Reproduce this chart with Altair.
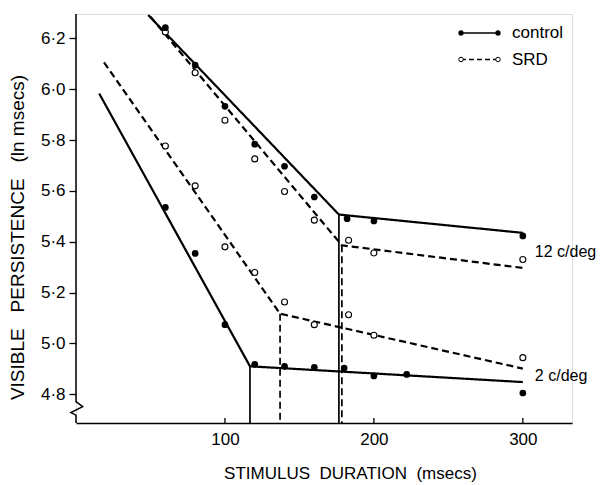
import altair as alt
import pandas as pd

# ---------------- data ----------------
control_12_x = [60, 80, 100, 120, 140, 160, 182, 200, 300]
control_12_y = [6.242, 6.095, 5.933, 5.784, 5.697, 5.576, 5.491, 5.482, 5.423]

srd_12_x = [60, 80, 100, 120, 140, 160, 183, 200, 300]
srd_12_y = [6.225, 6.065, 5.878, 5.726, 5.598, 5.485, 5.406, 5.356, 5.330]

srd_2_x = [60, 80, 100, 120, 140, 160, 183, 200, 300]
srd_2_y = [5.777, 5.620, 5.380, 5.279, 5.163, 5.074, 5.113, 5.032, 4.944]

control_2_x = [60, 80, 100, 120, 140, 160, 180, 200, 222, 300]
control_2_y = [5.535, 5.354, 5.074, 4.918, 4.910, 4.906, 4.903, 4.872, 4.878, 4.805]

# bilinear fits: start, break point, end
fit_control_12_x = [48.5, 176.5, 300]
fit_control_12_y = [6.292, 5.507, 5.435]
fit_srd_12_x = [50, 178.5, 300]
fit_srd_12_y = [6.285, 5.386, 5.297]
fit_srd_2_x = [18.8, 137, 300]
fit_srd_2_y = [6.106, 5.117, 4.901]
fit_control_2_x = [15.6, 116.8, 300]
fit_control_2_y = [5.983, 4.910, 4.848]

x_ticks = [100, 200, 300]
y_ticks = [4.8, 5.0, 5.2, 5.4, 5.6, 5.8, 6.0, 6.2]
x_domain = [0, 333]
y_domain = [4.687, 6.296]

# y axis line with its break symbol
axis_line_x = [0, 0, 4.5, -3.4, 0, 0]
axis_line_y = [6.296, 4.771, 4.751, 4.728, 4.718, 4.687]

freq_labels = ["12 c/deg", "2 c/deg"]
freq_label_x = [300, 300]
freq_label_y = [5.36, 4.87]

legend_labels = ["control", "SRD"]

# ---------------- tables ----------------
def pts(name, cond, xs, ys):
    return pd.DataFrame({"series": name, "cond": cond, "x": xs, "y": ys})

points = pd.concat([
    pts("c12", "control", control_12_x, control_12_y),
    pts("s12", "SRD", srd_12_x, srd_12_y),
    pts("s2", "SRD", srd_2_x, srd_2_y),
    pts("c2", "control", control_2_x, control_2_y),
])

fits = pd.concat([
    pts("c12", "control", fit_control_12_x, fit_control_12_y),
    pts("s12", "SRD", fit_srd_12_x, fit_srd_12_y),
    pts("s2", "SRD", fit_srd_2_x, fit_srd_2_y),
    pts("c2", "control", fit_control_2_x, fit_control_2_y),
])

drops = pd.DataFrame({
    "series": ["c12", "s12", "s2", "c2"],
    "cond": ["control", "SRD", "SRD", "control"],
    "x": [fit_control_12_x[1], fit_srd_12_x[1], fit_srd_2_x[1], fit_control_2_x[1]],
    "y": [fit_control_12_y[1], fit_srd_12_y[1], fit_srd_2_y[1], fit_control_2_y[1]],
    "y0": [y_domain[0]] * 4,
})

axis_df = pd.DataFrame({"i": range(len(axis_line_x)), "x": axis_line_x, "y": axis_line_y})
label_df = pd.DataFrame({"text": freq_labels, "x": freq_label_x, "y": freq_label_y})
xtick_df = pd.DataFrame({"x": x_ticks})

FONT = "Liberation Sans"

xs = alt.Scale(domain=x_domain, nice=False, zero=False)
ys = alt.Scale(domain=y_domain, nice=False, zero=False)

x_axis = alt.Axis(
    values=x_ticks, ticks=False, grid=False, labelPadding=8, labelFontSize=17,
    labelColor="black", labelFont=FONT, domainColor="black", domainWidth=1.5,
    title="STIMULUS\u00a0\u00a0DURATION\u00a0\u00a0(msecs)", titleFontSize=17,
    titleFontWeight="normal", titleFont=FONT, titleColor="black",
    titleX=274, titleY=50, titleAlign="center", titleBaseline="middle",
)
y_axis = alt.Axis(
    values=y_ticks, domain=False, grid=False, tickSize=7, tickColor="black",
    tickWidth=1.3, labelPadding=4, labelFontSize=17, labelColor="black",
    labelFont=FONT, labelExpr="replace(format(datum.value, '.1f'), '.', '·')",
    title="VISIBLE\u00a0\u00a0\u00a0PERSISTENCE\u00a0\u00a0\u00a0(ln msecs)",
    titleFontSize=19, titleFontWeight="normal", titleFont=FONT, titleColor="black",
    titleAngle=270, titleX=-59, titleY=223, titleAlign="center", titleBaseline="middle",
)

X = alt.X("x:Q", scale=xs, axis=x_axis)
Y = alt.Y("y:Q", scale=ys, axis=y_axis)

dash_scale = alt.Scale(domain=["control", "SRD"], range=[[1, 0], [7, 4]])

fit_lines = alt.Chart(fits).mark_line(color="black", strokeWidth=2.2).encode(
    x=X, y=Y, detail="series:N",
    strokeDash=alt.StrokeDash("cond:N", scale=dash_scale, legend=None),
)

drop_lines = alt.Chart(drops).mark_rule(color="black", strokeWidth=1.7).encode(
    x=alt.X("x:Q", scale=xs), y=alt.Y("y:Q", scale=ys), y2="y0:Q",
    strokeDash=alt.StrokeDash("cond:N", scale=dash_scale, legend=None),
)

filled = alt.Chart(points).transform_filter("datum.cond == 'control'").mark_circle(
    color="black", size=45, opacity=1
).encode(x=alt.X("x:Q", scale=xs), y=alt.Y("y:Q", scale=ys))

hollow = alt.Chart(points).transform_filter("datum.cond == 'SRD'").mark_point(
    shape="circle", filled=True, fill="white", stroke="black", strokeWidth=1.1,
    size=36, opacity=1
).encode(x=alt.X("x:Q", scale=xs), y=alt.Y("y:Q", scale=ys))

labels = alt.Chart(label_df).mark_text(
    align="left", baseline="middle", dx=12, fontSize=16, font=FONT, color="black"
).encode(x=alt.X("x:Q", scale=xs), y=alt.Y("y:Q", scale=ys), text="text:N")

axis_path = alt.Chart(axis_df).mark_line(color="black", strokeWidth=1.5, clip=False).encode(
    x=alt.X("x:Q", scale=xs), y=alt.Y("y:Q", scale=ys), order="i:Q"
)

x_tick_marks = alt.Chart(xtick_df).mark_rule(color="black", strokeWidth=1.3).encode(
    x=alt.X("x:Q", scale=xs), y=alt.value(409), y2=alt.value(404)
)

# ---- legend (manual: dot-line-dot symbols) ----
leg_rows = []
for lab, yy, dash in [(legend_labels[0], 19, [1, 0]), (legend_labels[1], 45.5, [5, 3])]:
    d = alt.Data(values=[{"label": lab}])
    leg_rows.append(alt.Chart(d).mark_rule(color="black", strokeWidth=1.7, strokeDash=dash).encode(
        x=alt.value(385), x2=alt.value(422), y=alt.value(yy)))
    if lab == "control":
        for xx in (385, 422):
            leg_rows.append(alt.Chart(d).mark_circle(color="black", size=28, opacity=1).encode(
                x=alt.value(xx), y=alt.value(yy)))
    else:
        for xx in (385, 422):
            leg_rows.append(alt.Chart(d).mark_point(shape="circle", filled=True, fill="white",
                                                    stroke="black", strokeWidth=1, size=20,
                                                    opacity=1).encode(
                x=alt.value(xx), y=alt.value(yy)))
    leg_rows.append(alt.Chart(d).mark_text(align="left", baseline="middle", fontSize=17,
                                           font=FONT, color="black").encode(
        x=alt.value(436), y=alt.value(yy), text="label:N"))

chart = alt.layer(
    fit_lines, drop_lines, hollow, filled, labels, axis_path, x_tick_marks, *leg_rows
).properties(
    width=496, height=409,
    padding={"left": 68, "top": 6, "right": 28, "bottom": 59},
    autosize=alt.AutoSizeParams(type="none"),
).configure_view(stroke=None).configure(font=FONT)

chart.save("out.html", embed_options={"renderer": "svg", "actions": False})
